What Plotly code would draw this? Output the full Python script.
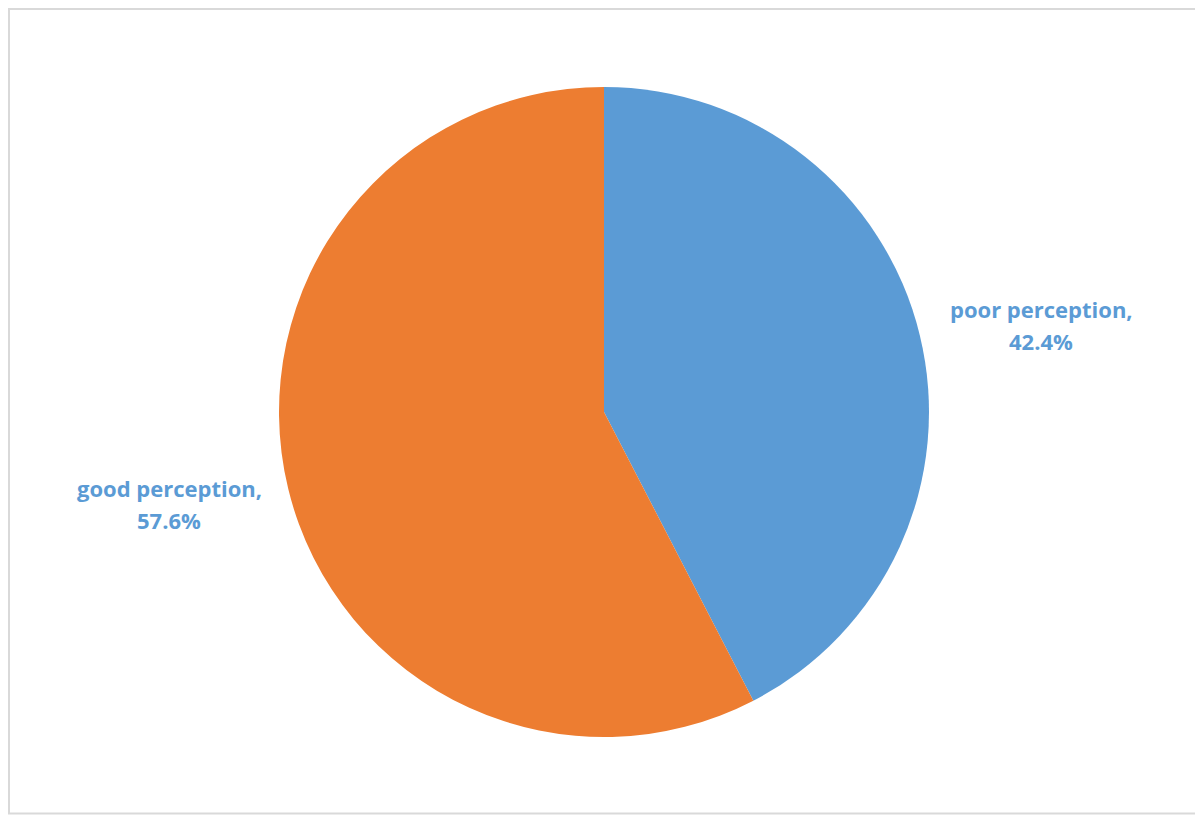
import plotly.graph_objects as go

labels = ["poor perception", "good perception"]
values = [42.4, 57.6]
colors = ["#5B9BD5", "#ED7D31"]
label_pos = [(1041, 309), (169, 488)]  # page-pixel centers of first label line

OFF = 8  # page body margin
W, H = 1203 - OFF, 816 - OFF
cx, cy, r = 604 - OFF, 412 - OFF, 325
LINE_GAP = 32

fig = go.Figure(go.Pie(
    labels=labels, values=values, sort=False, direction="clockwise", rotation=0,
    marker=dict(colors=colors, line=dict(width=0)),
    textinfo="none", hoverinfo="label+percent",
    domain=dict(x=[(cx - r) / W, (cx + r) / W], y=[1 - (cy + r) / H, 1 - (cy - r) / H]),
    showlegend=False,
))

font = dict(family="Open Sans, Lato, sans-serif", size=22, color="#5B9BD5")
for lab, val, (px, py) in zip(labels, values, label_pos):
    for i, line in enumerate([f"<b>{lab},</b>", f"<b>{val:.1f}%</b>"]):
        fig.add_annotation(
            x=(px - OFF) / W, y=1 - (py + i * LINE_GAP - OFF) / H,
            xref="paper", yref="paper", text=line, showarrow=False,
            font=font, xanchor="center", yanchor="middle",
        )

fig.add_shape(type="rect", xref="paper", yref="paper",
              x0=1 / W, x1=(1200.5 - OFF) / W,
              y0=1 - (813.5 - OFF) / H, y1=1 - 1 / H,
              line=dict(color="#D9D9D9", width=2), fillcolor="rgba(0,0,0,0)")

fig.update_layout(width=W, height=H, margin=dict(l=0, r=0, t=0, b=0),
                  paper_bgcolor="white", plot_bgcolor="white")

fig.write_html("out.html")
